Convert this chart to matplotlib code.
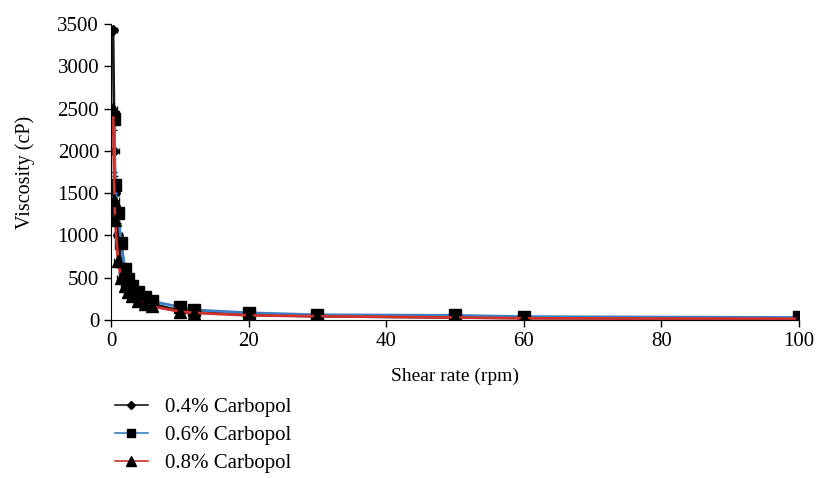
import numpy as np
import matplotlib.pyplot as plt
from matplotlib.lines import Line2D

# shear rate (rpm) and viscosity (cP)
shear = [0.3, 0.5, 0.6, 1, 1.5, 2, 2.5, 3, 4, 5, 6, 10, 12, 20, 30, 50, 60, 100]
visc_04 = [3430, 2000, 1500, 1000, 650, 500, 420, 350, 280, 230, 190, 110, 95, 60, 45, 30, 25, 15]
visc_06 = [2400, 2380, 1590, 1270, 910, 600, 480, 400, 330, 270, 220, 155, 120, 85, 62, 55, 40, 30]
visc_08 = [2500, 1420, 1180, 700, 500, 400, 330, 280, 230, 190, 160, 100, 85, 55, 45, 30, 20, 15]
xerr = [0.6] * len(shear)
yerr_04 = [0, 250, 200, 150, 100, 80, 60, 50, 40, 35, 30, 20, 15, 10, 8, 6, 5, 5]

plt.rcParams['font.family'] = ['Liberation Serif']
plt.rcParams['font.size'] = 15

fig = plt.figure(figsize=(8.19, 4.78), dpi=100)
ax = fig.add_axes([0.1355, 0.3305, 0.84, 0.6195])

series = [
    ("0.4% Carbopol", visc_04, "#1a1a1a", "D", 5.5),
    ("0.6% Carbopol", visc_06, "#3a7fc4", "s", 8),
    ("0.8% Carbopol", visc_08, "#d0312d", "^", 8.5),
]

for name, v, c, m, ms in series:
    ax.errorbar(shear, v, xerr=xerr, yerr=yerr_04 if name.startswith("0.4") else None,
                color=c, ecolor="#111111", elinewidth=0.8, capsize=2.5,
                marker=m, markersize=ms, mfc="black", mec="black", lw=2)

ax.set_xlim(0, 100)
ax.set_ylim(0, 3500)
ax.set_xticks([0, 20, 40, 60, 80, 100])
ax.set_yticks(range(0, 3501, 500))
ax.spines['top'].set_visible(False)
ax.spines['right'].set_visible(False)
ax.tick_params(direction='out', length=5, width=1, labelsize=15)
ax.set_xlabel("Shear rate (rpm)", fontsize=14, labelpad=12)
ax.set_ylabel("Viscosity (cP)", fontsize=14.5, labelpad=16)

handles = [Line2D([], [], color=c, lw=1.2, marker=m, markersize=ms * 0.8,
                  mfc="black", mec="black") for _, _, c, m, ms in series]
labels = [s[0] for s in series]
fig.legend(handles, labels, loc="upper left", bbox_to_anchor=(0.13, 0.185),
           frameon=False, handlelength=1.6, handletextpad=0.8,
           labelspacing=0.4, borderaxespad=0, fontsize=15)

fig.savefig("out.png", dpi=100)
